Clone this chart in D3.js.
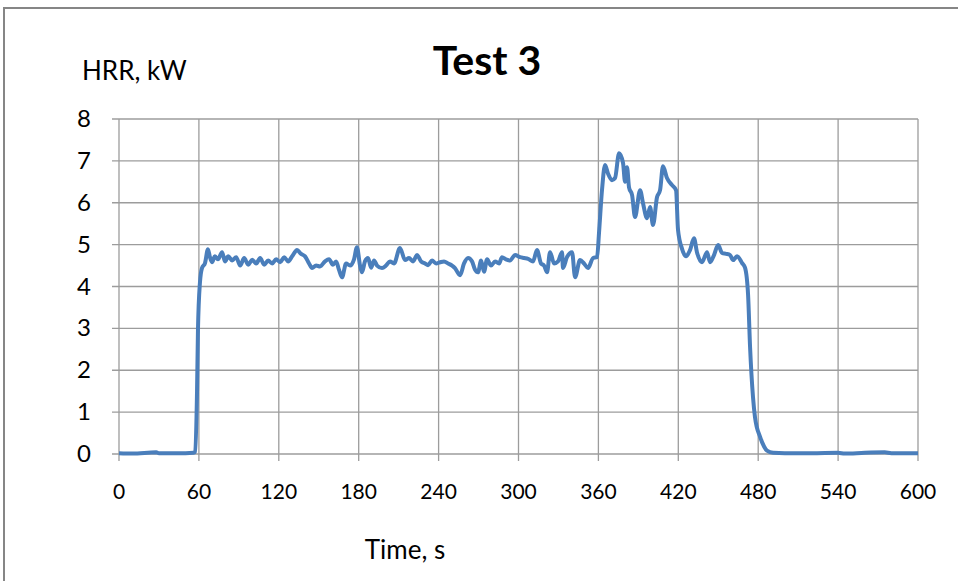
<!DOCTYPE html>
<html lang="en">
<head>
    <meta charset="UTF-8">
    <title>Test 3</title>
    <script src="https://d3js.org/d3.v7.min.js"></script>
    <style>
        body { margin: 0; background: #fff; }
        text { font-family: Lato, "Open Sans", sans-serif; fill: #000; }
    </style>
</head>
<body>
<svg width="958" height="581"></svg>
<script>
    // time in seconds
    let timeS = [0, 10, 28, 30, 50, 56, 57, 58.6, 59.3, 60.8, 62.3, 64.6, 66.8, 68.3, 69.8, 72, 74.3, 77.4, 79.6, 82,
        85, 88, 91, 94, 97, 100, 103, 106, 109, 112, 115, 118, 121, 124, 127, 130, 133.7, 136.7, 139.7, 142.7,
        145, 148, 151, 154.7, 157.7, 160.7, 163, 165.2, 167.5, 170.5, 173.5, 176.5, 178.7, 181, 182.5, 184.7, 187, 189.3, 191.5, 193.8,
        197.5, 200.5, 203.5, 206.5, 211, 214.8, 217.8, 220.8, 223.8, 226.8, 229.8, 232.1, 235.1, 238.1, 241.1, 244.1, 247.1, 250.1, 252.3, 256.1,
        259.1, 262.1, 265.1, 267.4, 269.6, 271.9, 274.1, 276.4, 279.4, 282.4, 285.4, 287.6, 290.6, 293.6, 297.4, 301.2, 304.2, 307.2, 310.9, 313.9,
        316.9, 319.2, 321.4, 323.7, 326.7, 329.7, 332.7, 333.4, 336.4, 340.2, 342.5, 346.2, 349.2, 352.2, 356, 359, 360.5, 362.7, 365, 367.2,
        370.2, 372.5, 375.5, 378.5, 380, 381.5, 383, 385.3, 387.5, 391.3, 393.5, 396.5, 398.8, 401, 404, 406.3, 408.5, 411.5, 415.3, 418.3,
        419.8, 422.8, 425.8, 428.8, 431.8, 434, 437.8, 441.6, 443.8, 446.8, 449.9, 452.9, 455.9, 458.9, 461.1, 464.1, 467.9, 470.1, 472.4, 473.9,
        476.1, 477.6, 481.4, 484.4, 486.6, 491.2, 500, 520, 540, 545, 560, 575, 580, 600];

    // heat release rate, kW
    let hrrKW = [0.02, 0.01, 0.04, 0.02, 0.02, 0.03, 0.05, 1.5, 2.96, 4.1, 4.44, 4.56, 4.89, 4.7, 4.58, 4.72, 4.65, 4.82, 4.6, 4.72,
        4.62, 4.7, 4.5, 4.68, 4.52, 4.64, 4.55, 4.68, 4.52, 4.62, 4.55, 4.65, 4.58, 4.7, 4.6, 4.72, 4.87, 4.78, 4.72, 4.55,
        4.44, 4.5, 4.48, 4.6, 4.65, 4.52, 4.6, 4.4, 4.22, 4.55, 4.5, 4.65, 4.94, 4.5, 4.34, 4.6, 4.68, 4.45, 4.62, 4.5,
        4.44, 4.5, 4.6, 4.55, 4.92, 4.63, 4.68, 4.6, 4.75, 4.6, 4.55, 4.51, 4.62, 4.55, 4.58, 4.6, 4.55, 4.5, 4.44, 4.27,
        4.55, 4.68, 4.6, 4.4, 4.34, 4.62, 4.35, 4.65, 4.5, 4.6, 4.55, 4.7, 4.65, 4.62, 4.75, 4.7, 4.68, 4.66, 4.6, 4.87,
        4.55, 4.5, 4.34, 4.82, 4.55, 4.6, 4.82, 4.44, 4.7, 4.82, 4.22, 4.63, 4.55, 4.44, 4.68, 4.7, 5.3, 6.3, 6.9, 6.7,
        6.54, 6.59, 7.18, 6.95, 6.5, 6.85, 6.37, 6.18, 5.66, 6.3, 5.99, 5.63, 5.9, 5.47, 6.13, 6.3, 6.87, 6.59, 6.42, 6.3,
        5.35, 4.9, 4.72, 4.87, 5.15, 4.82, 4.58, 4.82, 4.58, 4.75, 4.99, 4.8, 4.78, 4.75, 4.63, 4.72, 4.56, 4.45, 3.8, 2.55,
        1.36, 0.88, 0.41, 0.18, 0.08, 0.03, 0.02, 0.02, 0.03, 0.01, 0.03, 0.04, 0.02, 0.02];

    let xTicks = [0, 60, 120, 180, 240, 300, 360, 420, 480, 540, 600];
    let yTicks = [0, 1, 2, 3, 4, 5, 6, 7, 8];

    let svg = d3.select('svg')
    let plotLeft = 119, plotRight = 918, plotTop = 119, plotBottom = 454

    // chart frame (left and top edges show in the picture)
    svg.append("rect")
        .attr("x", 4).attr("y", 8)
        .attr("width", 980).attr("height", 600)
        .attr("fill", "none")
        .attr("stroke", "#868686")
        .attr("stroke-width", 2)

    let x = d3.scaleLinear().domain([0, 600]).range([plotLeft, plotRight])
    let y = d3.scaleLinear().domain([0, 8]).range([plotBottom, plotTop])

    // grid + tick marks
    let grid = svg.append("g")
        .attr("stroke", "#9c9c9c")
        .attr("stroke-width", 1.3)

    grid.selectAll(".vline")
        .data(xTicks)
        .enter()
        .append("line")
        .attr("x1", d => x(d)).attr("x2", d => x(d))
        .attr("y1", plotTop).attr("y2", plotBottom + 7)

    grid.selectAll(".hline")
        .data(yTicks)
        .enter()
        .append("line")
        .attr("x1", plotLeft - 7).attr("x2", plotRight)
        .attr("y1", d => y(d)).attr("y2", d => y(d))

    // tick labels
    svg.append("g")
        .selectAll("text")
        .data(xTicks)
        .enter()
        .append("text")
        .attr("x", d => x(d))
        .attr("y", 499)
        .attr("text-anchor", "middle")
        .style("font-size", "21px")
        .text(d => d)

    svg.append("g")
        .selectAll("text")
        .data(yTicks)
        .enter()
        .append("text")
        .attr("x", 91)
        .attr("y", d => y(d) + 8)
        .attr("text-anchor", "end")
        .style("font-size", "24px")
        .text(d => d)

    // the curve
    let line = d3.line()
        .x((d, i) => x(timeS[i]))
        .y(d => y(d))
        .curve(d3.curveMonotoneX)

    svg.append("path")
        .datum(hrrKW)
        .attr("d", line)
        .attr("fill", "none")
        .attr("stroke", "#4a7ebb")
        .attr("stroke-width", 4)
        .attr("stroke-linejoin", "round")

    // titles
    svg.append("text")
        .attr("x", 487).attr("y", 75)
        .attr("text-anchor", "middle")
        .style("font-size", "41px")
        .style("font-weight", "bold")
        .text("Test 3")

    svg.append("text")
        .attr("x", 82).attr("y", 80)
        .style("font-size", "26px")
        .text("HRR, kW")

    svg.append("text")
        .attr("x", 405).attr("y", 559)
        .attr("text-anchor", "middle")
        .style("font-size", "26px")
        .text("Time, s")
</script>
</body>
</html>
